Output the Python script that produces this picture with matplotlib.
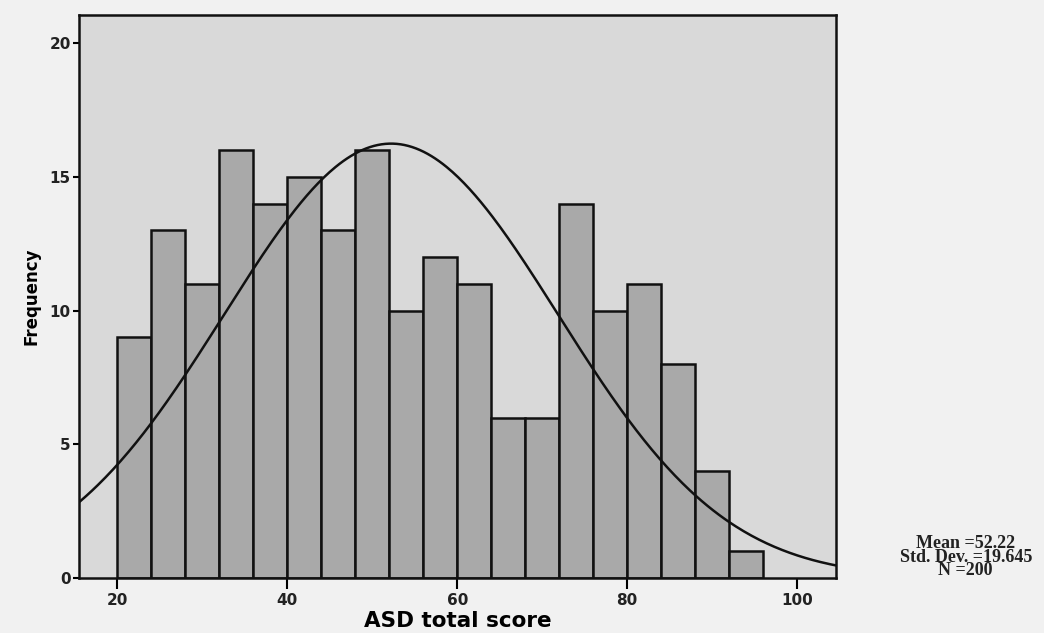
import numpy as np
import matplotlib.pyplot as plt

# histogram of ASD total score, bin width 4 starting at 20
bin_edges = [20, 24, 28, 32, 36, 40, 44, 48, 52, 56, 60, 64, 68, 72, 76, 80, 84, 88, 92, 96]
counts = [9, 13, 11, 16, 14, 15, 13, 16, 10, 12, 11, 6, 6, 14, 10, 11, 8, 4, 1]
mean_val = 52.22
std_val = 19.645
n_total = 200
x_ticks = [20, 40, 60, 80, 100]
y_ticks = [0, 5, 10, 15, 20]

fig = plt.figure(figsize=(10.44, 6.33), dpi=100)
fig.patch.set_facecolor('#f1f1f1')
ax = fig.add_axes([0.0757, 0.087, 0.7253, 0.889])
ax.set_facecolor('#d9d9d9')

lefts = np.array(bin_edges[:-1])
widths = np.diff(bin_edges)
ax.bar(lefts, counts, width=widths, align='edge', color='#a9a9a9',
       edgecolor='#111111', linewidth=1.8)

# normal curve scaled to counts
xs = np.linspace(15, 105, 400)
bw = widths[0]
ys = n_total * bw / (std_val * np.sqrt(2 * np.pi)) * np.exp(-0.5 * ((xs - mean_val) / std_val) ** 2)
ax.plot(xs, ys, color='#111111', linewidth=1.8)

ax.set_xlim(15.5, 104.6)
ax.set_ylim(0, 21.05)
ax.set_xticks(x_ticks)
ax.set_yticks(y_ticks)
ax.tick_params(axis='x', direction='out', length=8, width=1.5, labelsize=11, pad=3)
ax.tick_params(axis='y', direction='out', length=4, width=1.5, labelsize=11, pad=2)
for lbl in ax.get_xticklabels() + ax.get_yticklabels():
    lbl.set_fontweight('bold')
    lbl.set_color('#222222')
for sp in ax.spines.values():
    sp.set_linewidth(1.8)
    sp.set_color('#111111')

ax.set_xlabel('ASD total score', fontsize=15.5, fontweight='bold', labelpad=2)
ax.set_ylabel('Frequency', fontsize=12, fontweight='bold', labelpad=6)

fig.text(0.925, 0.12, 'Mean =52.22\nStd. Dev. =19.645\nN =200',
         ha='center', va='center', fontsize=13, family='Liberation Serif',
         fontweight='bold', linespacing=0.7, color='#222222')

fig.savefig('out.png', dpi=100, facecolor=fig.get_facecolor())
